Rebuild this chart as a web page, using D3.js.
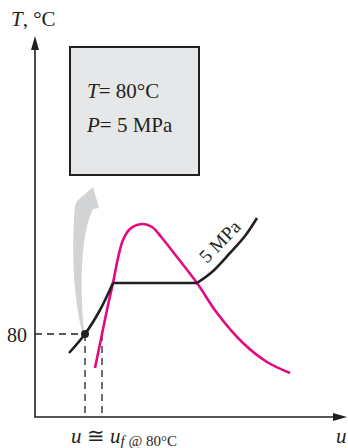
<!DOCTYPE html>
<html><head><meta charset="utf-8">
<script src="https://cdn.jsdelivr.net/npm/d3@7/dist/d3.min.js"></script>
<style>
html,body{margin:0;padding:0;background:#fff;}
svg{display:block;font-family:"Liberation Serif","Times New Roman",serif;}
</style></head>
<body>
<script>
// Schematic T-u diagram, 5 MPa isobar (schematic units)
const liquidU = [34, 50, 65, 78];
const liquidT = [61, 80, 104, 131];
const plateauU = [78, 162];
const plateauT = [131, 131];
const vaporU = [162, 177, 195, 210, 222];
const vaporT = [131, 142, 161, 178, 196];
const domeU = [60, 67, 73, 78, 83, 88, 95, 107, 117, 127, 142, 162, 182, 208, 232, 255];
const domeT = [46, 80, 109, 131, 156, 174, 185, 190, 187, 176, 157, 131, 101, 71, 52, 41];
const stateU = 50, stateT = 80, stateUf = 67;
const yTicks = [80];
const boxLines = [["T", "= 80°C"], ["P", "= 5 MPa"]];
const curveLabel = "5 MPa";

const W = 348, H = 448;
const svg = d3.select("body").append("svg").attr("width", W).attr("height", H);
const x = d3.scaleLinear().domain([0, 310]).range([35, 345]);
const y = d3.scaleLinear().domain([-3, 376]).range([417, 38]);
const pts = (us, ts) => us.map((u, i) => [u, ts[i]]);
const line = d3.line().x(d => x(d[0])).y(d => y(d[1])).curve(d3.curveCatmullRom.alpha(0.5));

// gray swoosh arrow (from state point up to box)
const ap = d3.path();
ap.moveTo(x(47), y(83));
ap.bezierCurveTo(x(39), y(114), x(36), y(164), x(40), y(208));
ap.lineTo(x(42), y(213));
ap.lineTo(x(58), y(227));
ap.lineTo(x(64), y(206));
ap.lineTo(x(58), y(205));
ap.bezierCurveTo(x(45), y(179), x(45), y(124), x(49), y(84));
ap.closePath();
svg.append("path").attr("d", ap.toString()).attr("fill", "#d1d3d4");

// box
svg.append("rect").attr("x", 70).attr("y", 47).attr("width", 129).attr("height", 128)
  .attr("fill", "#e6e7e8").attr("stroke", "#231f20").attr("stroke-width", 2);
const bt = svg.append("g").attr("font-size", 21).attr("fill", "#231f20");
boxLines.forEach((l, i) => {
  const t = bt.append("text").attr("x", 87).attr("y", 98 + i * 34);
  t.append("tspan").attr("font-style", "italic").text(l[0]);
  t.append("tspan").text(l[1]);
});

// dashed guides
const dash = svg.append("g").attr("stroke", "#231f20").attr("stroke-width", 1.3).attr("stroke-dasharray", "7,5").attr("fill", "none");
dash.append("line").attr("x1", x(0)).attr("x2", x(stateU)).attr("y1", y(stateT)).attr("y2", y(stateT));
dash.append("line").attr("x1", x(stateU)).attr("x2", x(stateU)).attr("y1", y(stateT)).attr("y2", y(-3));
dash.append("line").attr("x1", x(stateUf)).attr("x2", x(stateUf)).attr("y1", y(stateT)).attr("y2", y(-3));

// dome (magenta)
svg.append("path").attr("d", line(pts(domeU, domeT))).attr("fill", "none")
  .attr("stroke", "#e5097f").attr("stroke-width", 2.6);

// isobar (black)
const iso = svg.append("g").attr("fill", "none").attr("stroke", "#231f20").attr("stroke-width", 2.6);
iso.append("path").attr("d", line(pts(liquidU, liquidT)));
iso.append("path").attr("d", d3.line().x(d => x(d[0])).y(d => y(d[1]))(pts(plateauU, plateauT)));
iso.append("path").attr("d", line(pts(vaporU, vaporT)));

// state point
svg.append("circle").attr("cx", x(stateU)).attr("cy", y(stateT)).attr("r", 4).attr("fill", "#231f20");

// curve label
svg.append("text").attr("transform", `translate(${x(172)},${y(150)}) rotate(-46)`)
  .attr("font-size", 19).attr("fill", "#231f20").text(curveLabel);

// axes
const yAxis = d3.axisLeft(y).tickValues(yTicks).tickSize(0).tickPadding(8);
const ga = svg.append("g").attr("transform", `translate(${x(0)},0)`).call(yAxis);
ga.select(".domain").remove();
ga.selectAll("text").attr("font-size", 20).attr("font-family", "Liberation Serif").attr("fill", "#231f20").attr("dy", "0.35em");

svg.append("line").attr("x1", x(0)).attr("x2", x(0)).attr("y1", y(-3)).attr("y2", 48)
  .attr("stroke", "#231f20").attr("stroke-width", 1.6);
svg.append("path").attr("d", `M${x(0)},36 L${x(0)-4},50 L${x(0)+4},50 Z`).attr("fill", "#231f20");
svg.append("line").attr("x1", x(0) - 0.8).attr("x2", 336).attr("y1", y(-3)).attr("y2", y(-3))
  .attr("stroke", "#231f20").attr("stroke-width", 1.6);
svg.append("path").attr("d", `M347,${y(-3)} L333,${y(-3)-4} L333,${y(-3)+4} Z`).attr("fill", "#231f20");

// axis titles
const yt = svg.append("text").attr("x", 11).attr("y", 26).attr("font-size", 21).attr("fill", "#231f20");
yt.append("tspan").attr("font-style", "italic").text("T");
yt.append("tspan").text(", °C");
svg.append("text").attr("x", 336).attr("y", 443).attr("font-size", 21).attr("font-style", "italic").attr("fill", "#231f20").text("u");
const bl = svg.append("text").attr("x", 71).attr("y", 443).attr("font-size", 21).attr("fill", "#231f20");
bl.append("tspan").attr("font-style", "italic").text("u");
bl.append("tspan").text(" ≅ ");
bl.append("tspan").attr("font-style", "italic").text("u");
bl.append("tspan").attr("font-style", "italic").attr("font-size", 15).attr("dy", 3).text("f");
bl.append("tspan").attr("font-size", 15).text(" @ 80°C");
</script>
</body></html>
